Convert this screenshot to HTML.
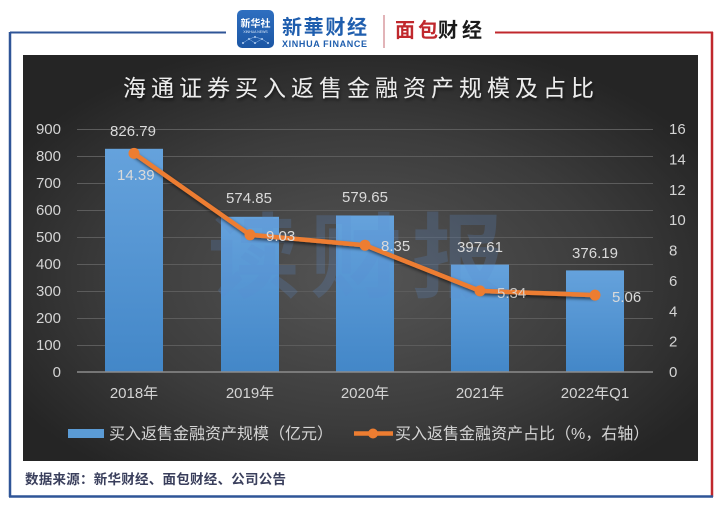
<!DOCTYPE html>
<html><head><meta charset="utf-8"><style>
html,body{margin:0;padding:0;background:#fff;}
svg{display:block;}
text{font-family:"Liberation Sans","Noto Sans CJK SC",sans-serif;}
</style></head><body>
<svg width="722" height="507" viewBox="0 0 722 507" xmlns="http://www.w3.org/2000/svg">
<defs>
<radialGradient id="bg" cx="0.5" cy="0.55" r="0.6">
<stop offset="0" stop-color="#555555"/>
<stop offset="0.6" stop-color="#3c3c3c"/>
<stop offset="1" stop-color="#252525"/>
</radialGradient>
<linearGradient id="bar" x1="0" y1="0" x2="0" y2="1">
<stop offset="0" stop-color="#65a2dc"/>
<stop offset="1" stop-color="#4387c8"/>
</linearGradient>
<linearGradient id="icon" x1="0" y1="0" x2="0" y2="1">
<stop offset="0" stop-color="#2f6fc0"/>
<stop offset="1" stop-color="#1b56a4"/>
</linearGradient>
<filter id="sh" x="-20%" y="-20%" width="140%" height="140%">
<feDropShadow dx="1" dy="2" stdDeviation="1.5" flood-color="#000" flood-opacity="0.6"/>
</filter>
</defs>

<!-- frame -->
<line x1="10" y1="32.5" x2="226" y2="32.5" stroke="#2f5597" stroke-width="2"/>
<line x1="495" y1="32.5" x2="713" y2="32.5" stroke="#c0282d" stroke-width="2"/>
<line x1="10" y1="32" x2="10" y2="497" stroke="#2f5597" stroke-width="2.5"/>
<line x1="712" y1="32" x2="712" y2="497" stroke="#c0282d" stroke-width="2.5"/>
<line x1="9" y1="496.5" x2="713" y2="496.5" stroke="#2f5597" stroke-width="2.5"/>

<!-- logos -->
<rect x="237" y="10" width="37" height="38" rx="5" fill="url(#icon)"/>
<text x="255.5" y="27" font-size="10" fill="#fff" text-anchor="middle" font-weight="bold">新华社</text>
<text x="255.5" y="33" font-size="3.5" fill="#dbe8f8" text-anchor="middle">XINHUA NEWS</text>
<g fill="#bcd6f5"><circle cx="243" cy="43" r="1"/><circle cx="249" cy="39" r="1"/><circle cx="255" cy="37" r="1"/><circle cx="262" cy="39" r="1"/><circle cx="268" cy="43" r="1"/><circle cx="255" cy="43" r="1"/></g>
<path d="M243 43 L249 39 L255 37 L262 39 L268 43 M249 39 L255 43 L262 39" stroke="#9cc1ee" stroke-width="0.5" fill="none"/>
<text x="282" y="34" font-size="20" fill="#1f5eae" font-family="'Noto Serif CJK SC','Liberation Serif',serif" font-weight="bold" textLength="85">新華财经</text>
<text x="282" y="47" font-size="9" fill="#1f5eae" font-family="'Liberation Serif',serif" font-weight="bold" textLength="85">XINHUA FINANCE</text>
<line x1="384" y1="15" x2="384" y2="48" stroke="#c46a70" stroke-width="1"/>
<text x="395" y="37" font-size="20" font-weight="bold" fill="#c0282d" textLength="43">面包</text>
<text x="438" y="37" font-size="20" font-weight="bold" fill="#1a1a1a" textLength="44">财经</text>

<!-- panel -->
<rect x="23" y="55" width="675" height="406" fill="url(#bg)"/>

<!-- title -->
<text x="361" y="96" font-size="23" fill="#ececec" text-anchor="middle" letter-spacing="5" filter="url(#sh)">海通证券买入返售金融资产规模及占比</text>

<!-- gridlines -->
<g stroke="#5c5c5c" stroke-width="1">
<line x1="77" y1="129.5" x2="653" y2="129.5"/>
<line x1="77" y1="156.5" x2="653" y2="156.5"/>
<line x1="77" y1="183.5" x2="653" y2="183.5"/>
<line x1="77" y1="210.5" x2="653" y2="210.5"/>
<line x1="77" y1="237.5" x2="653" y2="237.5"/>
<line x1="77" y1="264.5" x2="653" y2="264.5"/>
<line x1="77" y1="291.5" x2="653" y2="291.5"/>
<line x1="77" y1="318.5" x2="653" y2="318.5"/>
<line x1="77" y1="345.5" x2="653" y2="345.5"/>
</g>

<!-- bars -->
<g fill="url(#bar)">
<rect x="105" y="148.8" width="58" height="223.2"/>
<rect x="221" y="216.8" width="58" height="155.2"/>
<rect x="336" y="215.5" width="58" height="156.5"/>
<rect x="451" y="264.6" width="58" height="107.4"/>
<rect x="566" y="270.4" width="58" height="101.6"/>
</g>
<line x1="77" y1="372" x2="653" y2="372" stroke="#8c8c8c" stroke-width="1.5"/>

<!-- watermark -->
<text x="361" y="290" font-size="92" font-weight="bold" fill="#5b8fd0" fill-opacity="0.22" text-anchor="middle" letter-spacing="10">读财报</text>

<!-- line -->
<polyline points="134,153.4 250,234.8 365,245.2 480,290.9 595,295.1" fill="none" stroke="#ed7d31" stroke-width="4.5" stroke-linejoin="round" filter="url(#sh)"/>
<g fill="#ed7d31">
<circle cx="134" cy="153.4" r="5.5"/>
<circle cx="250" cy="234.8" r="5.5"/>
<circle cx="365" cy="245.2" r="5.5"/>
<circle cx="480" cy="290.9" r="5.5"/>
<circle cx="595" cy="295.1" r="5.5"/>
</g>

<!-- left axis labels -->
<g font-size="15" fill="#d4d4d4" text-anchor="end">
<text x="61" y="134">900</text>
<text x="61" y="161">800</text>
<text x="61" y="188">700</text>
<text x="61" y="215">600</text>
<text x="61" y="242">500</text>
<text x="61" y="269">400</text>
<text x="61" y="296">300</text>
<text x="61" y="323">200</text>
<text x="61" y="350">100</text>
<text x="61" y="377">0</text>
</g>
<!-- right axis labels -->
<g font-size="15" fill="#d4d4d4">
<text x="669" y="134">16</text>
<text x="669" y="164.4">14</text>
<text x="669" y="194.8">12</text>
<text x="669" y="225.1">10</text>
<text x="669" y="255.5">8</text>
<text x="669" y="285.9">6</text>
<text x="669" y="316.3">4</text>
<text x="669" y="346.6">2</text>
<text x="669" y="377">0</text>
</g>

<!-- category labels -->
<g font-size="15" fill="#d4d4d4" text-anchor="middle">
<text x="134" y="398">2018年</text>
<text x="250" y="398">2019年</text>
<text x="365" y="398">2020年</text>
<text x="480" y="398">2021年</text>
<text x="595" y="398">2022年Q1</text>
</g>

<!-- bar data labels -->
<g font-size="15" fill="#dadada" text-anchor="middle">
<text x="133" y="136">826.79</text>
<text x="249" y="203">574.85</text>
<text x="365" y="202">579.65</text>
<text x="480" y="252">397.61</text>
<text x="595" y="258">376.19</text>
</g>
<!-- line data labels -->
<g font-size="15" fill="#dadada">
<text x="117" y="180">14.39</text>
<text x="266" y="241">9.03</text>
<text x="381" y="251">8.35</text>
<text x="497" y="298" fill-opacity="0.85">5.34</text>
<text x="612" y="302">5.06</text>
</g>

<!-- legend -->
<rect x="68" y="429" width="36" height="9" fill="#5b9bd5"/>
<text x="109" y="439" font-size="16" fill="#d4d4d4">买入返售金融资产规模（亿元）</text>
<line x1="354" y1="433.5" x2="393" y2="433.5" stroke="#ed7d31" stroke-width="4.5"/>
<circle cx="373" cy="433.5" r="5" fill="#ed7d31"/>
<text x="395" y="439" font-size="16" fill="#d4d4d4">买入返售金融资产占比（%，右轴）</text>

<!-- footer -->
<text x="25" y="484" font-size="13.5" font-weight="bold" fill="#3a3f5c" font-family="'Noto Serif CJK SC','Liberation Serif','Noto Sans CJK SC',serif" textLength="261">数据来源：新华财经、面包财经、公司公告</text>
</svg>
</body></html>
